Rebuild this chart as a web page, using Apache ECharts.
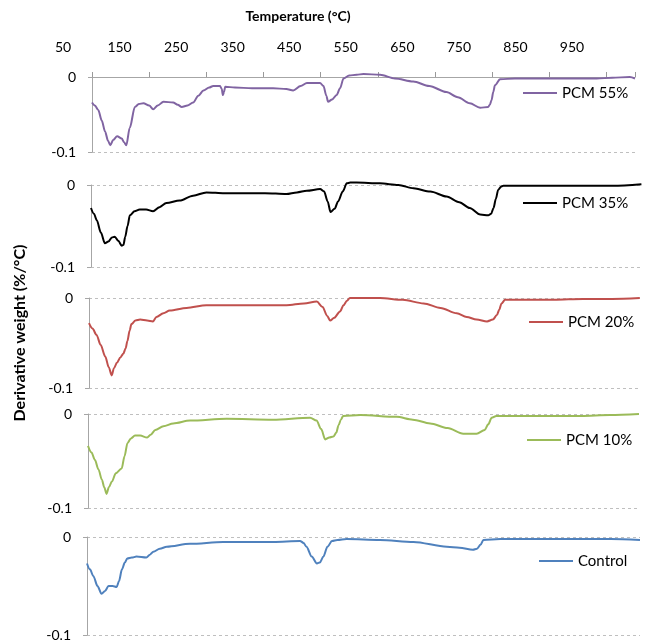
<!DOCTYPE html>
<html><head><meta charset="utf-8">
<script src="https://cdn.jsdelivr.net/npm/echarts@6/dist/echarts.min.js"></script>
<style>html,body{margin:0;padding:0;background:#fff}#c{width:649px;height:644px}</style>
</head><body><div id="c"></div>
<script>
// ---- tick labels ----
const tickLabels = [50, 150, 250, 350, 450, 550, 650, 750, 850, 950];
const seriesNames = ['PCM 55%', 'PCM 35%', 'PCM 20%', 'PCM 10%', 'Control'];

// ---- PCM 55% ----
const p55T = [50, 55, 61, 67, 73, 78, 82, 87, 94, 102,
  106, 110, 116, 125, 132, 140, 150, 157, 165, 175,
  192, 200, 207, 217, 227, 236, 245, 255, 262, 274,
  277, 279, 281, 283, 300, 330, 367, 390, 402, 415,
  426, 449, 455, 460, 463, 470, 478, 484, 490, 500,
  513, 525, 554, 580, 612, 640, 670, 690, 711, 729,
  743, 746, 749, 752, 755, 764, 790, 816, 850, 900,
  933, 960, 991, 1000];
const p55V = [-0.034, -0.038, -0.044, -0.058, -0.073, -0.085, -0.091, -0.084, -0.079, -0.082,
  -0.087, -0.091, -0.068, -0.040, -0.036, -0.035, -0.038, -0.043, -0.038, -0.033,
  -0.034, -0.037, -0.040, -0.038, -0.034, -0.025, -0.018, -0.014, -0.012, -0.012,
  -0.016, -0.024, -0.020, -0.013, -0.014, -0.015, -0.015, -0.016, -0.018, -0.012,
  -0.008, -0.008, -0.012, -0.025, -0.033, -0.030, -0.024, -0.015, -0.002, 0.002,
  0.003, 0.004, 0.003, -0.002, -0.006, -0.012, -0.020, -0.027, -0.035, -0.041,
  -0.040, -0.037, -0.031, -0.020, -0.011, -0.003, -0.002, -0.002, -0.002, -0.002,
  -0.002, -0.001, 0.000, -0.002];

// ---- PCM 35% ----
const p35T = [50, 55, 60, 67, 74, 80, 86, 91, 97, 103,
  106, 109, 113, 117, 125, 134, 145, 157, 168, 180,
  203, 226, 249, 280, 307, 350, 387, 405, 422, 445,
  452, 458, 463, 470, 476, 484, 491, 497, 508, 548,
  580, 606, 635, 663, 685, 703, 721, 735, 740, 744,
  748, 752, 757, 761, 800, 850, 900, 950, 999];
const p35V = [-0.028, -0.035, -0.043, -0.058, -0.071, -0.069, -0.064, -0.063, -0.068, -0.074,
  -0.073, -0.063, -0.050, -0.037, -0.032, -0.030, -0.030, -0.032, -0.027, -0.022,
  -0.019, -0.013, -0.009, -0.010, -0.010, -0.010, -0.011, -0.009, -0.007, -0.005,
  -0.008, -0.020, -0.033, -0.029, -0.020, -0.008, 0.002, 0.003, 0.003, 0.002,
  0.000, -0.004, -0.008, -0.014, -0.021, -0.028, -0.036, -0.037, -0.035, -0.028,
  -0.017, -0.006, -0.002, -0.001, -0.001, -0.001, -0.001, -0.001, 0.001];

// ---- PCM 20% ----
const p20T = [50, 56, 63, 70, 78, 84, 89, 93, 98, 104,
  109, 113, 116, 120, 123, 130, 138, 150, 160, 166,
  178, 189, 218, 252, 309, 390, 420, 442, 452, 460,
  465, 472, 482, 488, 494, 499, 551, 590, 626, 655,
  683, 700, 717, 735, 745, 752, 756, 760, 766, 800,
  850, 900, 950, 998];
const p20V = [-0.028, -0.034, -0.041, -0.052, -0.065, -0.077, -0.086, -0.078, -0.072, -0.066,
  -0.062, -0.056, -0.048, -0.036, -0.029, -0.025, -0.024, -0.025, -0.026, -0.021,
  -0.017, -0.014, -0.011, -0.008, -0.008, -0.008, -0.006, -0.004, -0.010, -0.020,
  -0.025, -0.022, -0.015, -0.008, -0.003, 0.000, 0.000, -0.002, -0.006, -0.011,
  -0.017, -0.021, -0.024, -0.026, -0.024, -0.019, -0.013, -0.006, -0.002, -0.002,
  -0.002, -0.001, -0.001, 0.000];

// ---- PCM 10% ----
const p10T = [50, 56, 62, 68, 74, 78, 82, 86, 91, 98,
  108, 113, 118, 124, 131, 140, 152, 158, 166, 180,
  197, 226, 289, 369, 433, 444, 452, 459, 466, 473,
  478, 482, 486, 490, 520, 582, 610, 640, 670, 697,
  720, 734, 740, 746, 754, 800, 850, 900, 950, 1000];
const p10V = [-0.034, -0.041, -0.049, -0.059, -0.070, -0.078, -0.085, -0.078, -0.072, -0.063,
  -0.058, -0.045, -0.031, -0.026, -0.023, -0.023, -0.025, -0.022, -0.017, -0.013,
  -0.010, -0.007, -0.005, -0.006, -0.004, -0.007, -0.016, -0.027, -0.025, -0.024,
  -0.020, -0.012, -0.006, -0.002, -0.001, -0.003, -0.006, -0.010, -0.015, -0.021,
  -0.021, -0.017, -0.011, -0.004, -0.002, -0.002, -0.002, -0.002, -0.001, 0.000];

// ---- Control ----
const ctlT = [50, 55, 61, 68, 75, 81, 87, 94, 101, 105,
  110, 115, 119, 127, 135, 152, 158, 164, 175, 187,
  227, 284, 370, 416, 422, 427, 436, 445, 450, 456,
  463, 471, 480, 496, 553, 611, 668, 690, 713, 720,
  726, 731, 760, 800, 850, 900, 950, 1000];
const ctlV = [-0.027, -0.033, -0.040, -0.050, -0.058, -0.055, -0.050, -0.050, -0.051, -0.045,
  -0.033, -0.026, -0.022, -0.021, -0.020, -0.021, -0.018, -0.015, -0.012, -0.010,
  -0.007, -0.005, -0.005, -0.004, -0.006, -0.010, -0.020, -0.027, -0.026, -0.020,
  -0.010, -0.004, -0.003, -0.002, -0.003, -0.005, -0.010, -0.011, -0.013, -0.012,
  -0.008, -0.003, -0.002, -0.002, -0.002, -0.002, -0.002, -0.003];

// ---- layout / style (not data) ----
const temps = [p55T, p35T, p20T, p10T, ctlT];
const vals = [p55V, p35V, p20V, p10V, ctlV];
const colors = ['#8064A2', '#000000', '#C0504D', '#9BBB59', '#4F81BD'];
const grids = [
  {left: 92, right: 14, top: 77, height: 75},
  {left: 91, right: 7, top: 185, height: 82},
  {left: 89, right: 8, top: 298, height: 90},
  {left: 88, right: 10, top: 414, height: 94},
  {left: 87, right: 9, top: 537, height: 98}
];
const legendPos = [
  {left: 523, cy: 93}, {left: 523, cy: 203}, {left: 529, cy: 322},
  {left: 527, cy: 440}, {left: 539, cy: 561}
];
const FONT = 'Lato, "Open Sans", sans-serif';
const AX = '#a6a6a6';

const option = {
  animation: false,
  backgroundColor: '#fff',
  textStyle: {fontFamily: FONT},
  grid: grids.concat([{left: 63, right: 77, top: 62, height: 1}]),
  xAxis: [], yAxis: [], series: [], legend: [],
  graphic: [
    {type: 'text', x: 298, y: 16,
     style: {text: 'Temperature (°C)', font: 'bold 14px ' + FONT, fill: '#000',
             align: 'center', verticalAlign: 'middle'}},
    {type: 'text', x: 20, y: 333, rotation: Math.PI / 2,
     style: {text: 'Derivative weight (%/°C)', font: 'bold 16px ' + FONT, fill: '#000',
             align: 'center', verticalAlign: 'middle'}}
  ]
};

for (let i = 0; i < 5; i++) {
  option.xAxis.push({
    type: 'value', gridIndex: i, min: 50, max: 1000, interval: 100,
    position: i === 0 ? 'top' : 'bottom',
    axisLine: {show: i === 0, onZero: false, lineStyle: {color: AX, width: 1}},
    axisTick: {show: i === 0, length: 5, inside: false,
               lineStyle: {color: '#999', width: 1}},
    axisLabel: {show: false},
    splitLine: {show: false}
  });
  option.yAxis.push({
    type: 'value', gridIndex: i, min: -0.1, max: 0, interval: 0.1,
    axisLine: {show: true, lineStyle: {color: AX, width: 1}},
    axisTick: {show: true, length: 4, lineStyle: {color: AX}},
    axisLabel: {fontSize: 14, color: '#000', margin: 16,
      formatter: v => (Math.abs(v) < 1e-9 ? '0' : String(Math.round(v * 10) / 10))},
    splitLine: {show: true, lineStyle: {color: '#bfbfbf', type: [3, 3], width: 1}}
  });
  option.series.push({
    name: seriesNames[i], type: 'line', xAxisIndex: i, yAxisIndex: i,
    data: temps[i].map((t, k) => [t, vals[i][k]]),
    showSymbol: false, symbol: 'none', clip: false,
    smooth: 0.3, smoothMonotone: 'x',
    color: colors[i],
    lineStyle: {color: colors[i], width: 2}
  });
  option.legend.push({
    data: [seriesNames[i]], left: legendPos[i].left, top: legendPos[i].cy - 9,
    padding: 0, icon: 'rect', itemWidth: 34, itemHeight: 2, itemGap: 5,
    textStyle: {fontSize: 15, color: '#000', lineHeight: 18}
  });
}
// top temperature labels axis
option.xAxis.push({
  type: 'value', gridIndex: 5, min: 50, max: 950, position: 'top',
  axisLine: {show: false}, axisTick: {show: false}, splitLine: {show: false},
  axisLabel: {customValues: tickLabels, fontSize: 14, color: '#000', margin: 8}
});
option.yAxis.push({type: 'value', gridIndex: 5, show: false});

const chart = echarts.init(document.getElementById('c'), null, {renderer: 'canvas'});
chart.setOption(option);
</script></body></html>
